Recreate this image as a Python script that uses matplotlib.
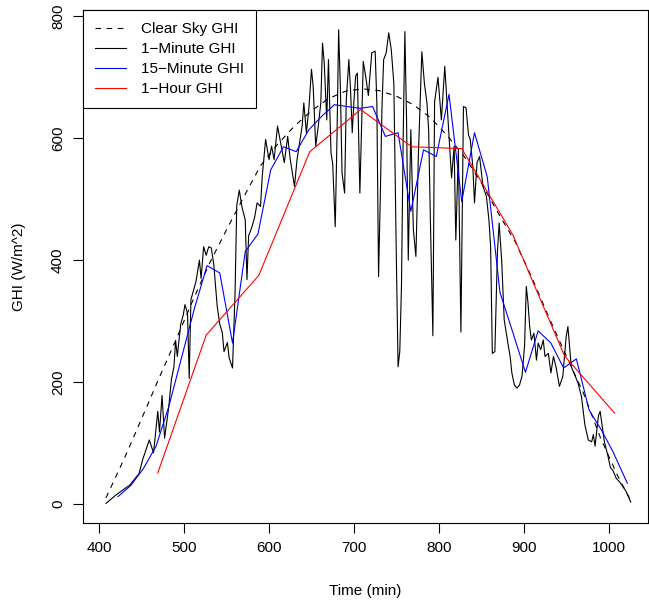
import numpy as np
import matplotlib
matplotlib.use("Agg")
import matplotlib.pyplot as plt

plt.rcParams['font.family'] = ['Liberation Sans', 'DejaVu Sans']

# clear sky model (min, W/m^2)
clear_t = [408, 430, 450, 470, 490, 510, 530, 550, 570, 590, 610, 630, 650, 670,
           690, 710, 730, 750, 770, 790, 810, 830, 850, 870, 890, 910, 930, 950,
           970, 990, 1010, 1025]
clear_v = [10, 76, 140, 205, 268, 333, 395, 450, 503, 555, 590, 620, 645, 665,
           677, 681, 678, 669, 655, 634, 604, 570, 527, 477, 430, 370, 305, 243,
           183, 110, 48, 8]

min_t = [408, 420, 436, 447, 451, 459, 464, 469, 471, 474, 477, 482, 485, 488,
         490, 492, 496, 499, 501, 504, 506, 508, 511, 514, 518, 520, 523, 526,
         529, 532, 535, 539, 542, 545, 547, 551, 553, 557, 560, 562, 565, 568,
         570, 572, 574, 576, 580, 583, 586, 590, 592, 596, 600, 603, 606, 610,
         614, 618, 622, 625, 630, 633, 639, 641, 644, 647, 650, 652, 655, 658,
         661, 663, 665, 668, 670, 673, 675, 678, 680, 682, 684, 686, 689, 691,
         694, 696, 698, 700, 702, 704, 707, 711, 714, 717, 721, 725, 727, 729,
         731, 733, 735, 738, 741, 744, 747, 750, 752, 754, 756, 758, 760, 762,
         764, 767, 770, 773, 776, 780, 783, 786, 788, 790, 793, 795, 799, 803,
         807, 811, 815, 818, 820, 823, 826, 829, 832, 835, 837, 840, 842, 845,
         848, 852, 856, 859, 861, 863, 866, 869, 871, 874, 877, 880, 882, 884,
         886, 889, 892, 895, 898, 901, 903, 905, 907, 909, 912, 915, 917, 920,
         923, 925, 929, 932, 935, 938, 942, 946, 950, 952, 954, 956, 960, 964,
         968, 972, 976, 980, 982, 984, 988, 990, 995, 999, 1002, 1005, 1009,
         1013, 1016, 1020, 1024, 1026]
min_v = [1, 15, 31, 50, 72, 105, 84, 152, 118, 178, 108, 160, 204, 225,
         268, 242, 295, 310, 327, 313, 206, 335, 350, 365, 400, 370, 422, 408,
         422, 420, 392, 324, 295, 281, 250, 265, 240, 223, 346, 490, 515, 488,
         477, 466, 368, 440, 455, 470, 494, 488, 537, 598, 565, 587, 565, 620,
         590, 560, 603, 565, 521, 565, 620, 658, 609, 650, 713, 685, 587, 620,
         658, 756, 724, 630, 729, 576, 558, 455, 598, 778, 685, 543, 510, 663,
         729, 680, 609, 660, 702, 707, 510, 726, 700, 670, 740, 743, 658, 373,
         500, 650, 729, 740, 773, 745, 690, 400, 225, 250, 357, 600, 775, 630,
         400, 614, 450, 406, 576, 742, 690, 658, 614, 470, 276, 660, 700, 630,
         718, 625, 535, 587, 433, 580, 282, 652, 650, 605, 598, 554, 494, 560,
         570, 521, 505, 466, 422, 247, 250, 412, 461, 400, 302, 275, 258, 242,
         215, 195, 190, 195, 210, 260, 357, 330, 291, 269, 280, 236, 264, 253,
         269, 242, 247, 215, 242, 225, 193, 209, 275, 291, 258, 225, 212, 198,
         176, 130, 105, 102, 114, 95, 145, 152, 102, 80, 60, 55, 42,
         36, 30, 22, 10, 3]

# 15-minute averages
q_t = [422, 437, 452, 467, 482, 497, 512, 527, 542, 557, 572, 587, 602, 617,
       632, 647, 662, 677, 692, 707, 722, 737, 752, 767, 782, 797, 812, 827,
       842, 857, 872, 887, 902, 917, 932, 947, 962, 977, 992, 1005, 1022]
q_v = [12, 30, 58, 95, 160, 240, 320, 391, 379, 264, 414, 443, 548, 586,
       578, 614, 636, 655, 652, 649, 652, 603, 609, 480, 581, 570, 672, 496,
       609, 537, 347, 282, 216, 284, 264, 223, 238, 154, 120, 86, 34]

# 1-hour averages
h_t = [469, 526, 588, 648, 708, 768, 827, 887, 948, 1007]
h_v = [51, 277, 375, 578, 647, 586, 583, 442, 243, 149]

fig = plt.figure(figsize=(6.49, 6.01), dpi=100)
ax = fig.add_axes([0.128, 0.13, 0.870, 0.853])

ax.plot(clear_t, clear_v, color='black', lw=0.8, linestyle=(0, (5, 5)), label='Clear Sky GHI')
ax.plot(min_t, min_v, color='black', lw=0.8, label='1\u2212Minute GHI')
ax.plot(q_t, q_v, color='#0000ff', lw=0.8, label='15\u2212Minute GHI')
ax.plot(h_t, h_v, color='#ff0000', lw=0.8, label='1\u2212Hour GHI')

ax.set_xlim(381, 1046)
ax.set_ylim(-31, 810)
ax.set_xticks([400, 500, 600, 700, 800, 900, 1000])
ax.set_yticks([0, 200, 400, 600, 800])
ax.tick_params(direction='out', length=7, width=0.8, labelsize=11, pad=6)
for lab in ax.get_yticklabels():
    lab.set_rotation(90)
    lab.set_va('center')
for s in ax.spines.values():
    s.set_linewidth(0.8)

ax.set_xlabel('Time (min)', fontsize=11, labelpad=21)
ax.set_ylabel('GHI (W/m^2)', fontsize=11, labelpad=18)

leg = ax.legend(loc='upper left', borderaxespad=0, fancybox=False, framealpha=1,
                edgecolor='black', fontsize=11, handlelength=2.0, labelspacing=0.38,
                borderpad=0.8, handletextpad=1.0)
leg.get_frame().set_linewidth(0.8)

fig.savefig('out.png', dpi=100)
